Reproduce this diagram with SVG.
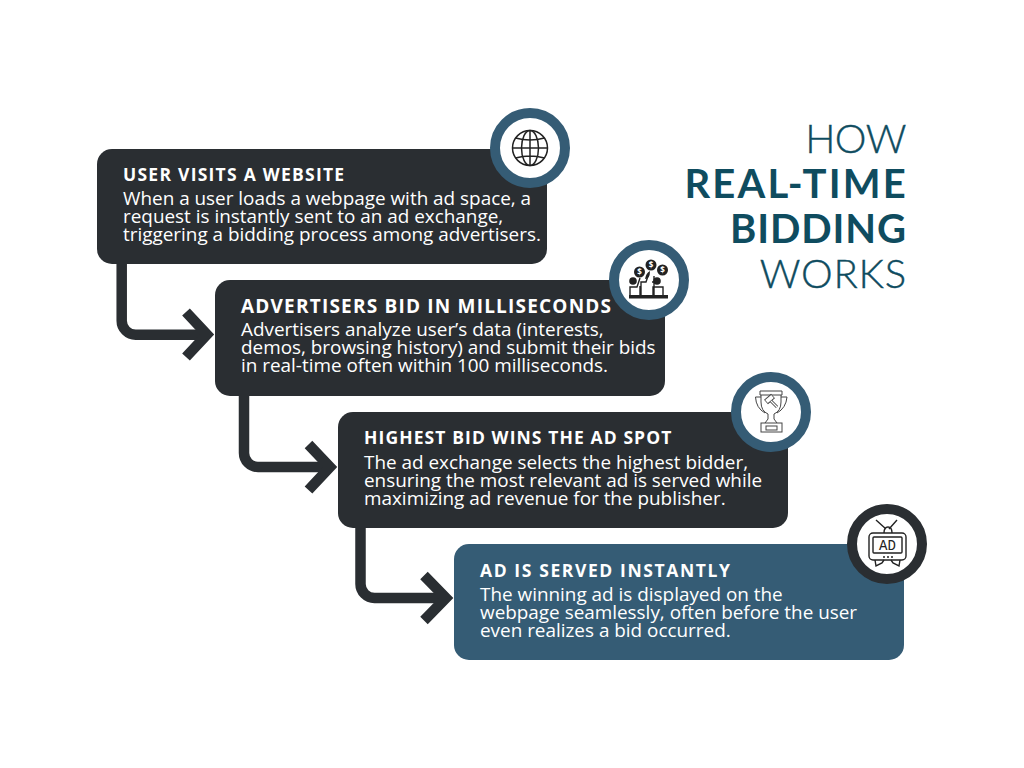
<svg xmlns="http://www.w3.org/2000/svg" width="1024" height="768" viewBox="0 0 1024 768">
<style>
.card{fill:#2a2e32}.blue{fill:#355c75}
.h{font:700 17.5px "Open Sans",sans-serif;fill:#fff;letter-spacing:1.1px}
.b{font:400 18.9px "Open Sans",sans-serif;fill:#fff}
.t{font-family:Lato,"Open Sans",sans-serif;font-size:40px;fill:#0f4c5f;text-anchor:end}
.tb{font-weight:700}.tl{font-weight:300;stroke:#0f4c5f;stroke-width:.4px}
.ring{fill:#fff;stroke:#355c75;stroke-width:10}
.conn{fill:none;stroke:#2a2e32;stroke-width:10.5}
.ic{fill:none;stroke:#222;stroke-width:1.4}
.gl{font:700 8px "Open Sans",sans-serif;fill:#fff;stroke:none;text-anchor:middle}
</style>
<rect width="1024" height="768" fill="#fff"/>
<g id="connectors" class="conn">
<path d="M121.700 262V320.700A14 14 0 0 0 135.700 334.700H206"/><path d="M186 312L207 334.500L186 357"/>
<path d="M244 394V453A14 14 0 0 0 258 467H329"/><path d="M308.500 444.500L330 467L308.500 490"/>
<path d="M360.500 526V584A14 14 0 0 0 374.500 598H445"/><path d="M424 575.500L446 598L424 620.500"/>
</g>
<g id="title">
<text class="t tl" x="906" y="153" style="letter-spacing:-.5px">HOW</text>
<text class="t tb" x="908" y="198" style="letter-spacing:2.200px">REAL-TIME</text>
<text class="t tb" x="907" y="243" style="letter-spacing:.9px">BIDDING</text>
<text class="t tl" x="907" y="288" style="letter-spacing:.8px">WORKS</text>
</g>
<g id="node1">
<rect class="card" x="97" y="149" width="450" height="115" rx="15"/>
<text class="h" x="123" y="181" style="letter-spacing:1.250px">USER VISITS A WEBSITE</text>
<text class="b" x="123" y="204.500">When a user loads a webpage with ad space, a</text>
<text class="b" x="123" y="222.500">request is instantly sent to an ad exchange,</text>
<text class="b" x="123" y="240.500">triggering a bidding process among advertisers.</text>
<circle class="ring" cx="530" cy="148" r="35"/>
<g class="ic" style="stroke-width:1.500px">
<circle cx="530" cy="148" r="17.500"/><ellipse cx="530" cy="148" rx="8.500" ry="17.500"/><path d="M530 130.500V165.500M512.500 148H547.500M515.500 138Q530 142 544.500 138M515.500 158Q530 154 544.500 158"/>
</g>
</g>
<g id="node2">
<rect class="card" x="215" y="280" width="450" height="116" rx="15"/>
<text class="h" x="241" y="313" style="font-size:19px;letter-spacing:1.200px">ADVERTISERS BID IN MILLISECONDS</text>
<text class="b" x="241" y="336">Advertisers analyze user’s data (interests,</text>
<text class="b" x="241" y="354">demos, browsing history) and submit their bids</text>
<text class="b" x="241" y="372">in real-time often within 100 milliseconds.</text>
<circle class="ring" cx="649" cy="280" r="35"/>
<g>
<rect x="629" y="295" width="39" height="3.500" fill="#222"/>
<g fill="#222"><circle cx="639.500" cy="272" r="5.500"/><circle cx="651" cy="265" r="5.500"/><circle cx="662.500" cy="270" r="5.500"/><circle cx="633" cy="281" r="3.800"/><circle cx="657" cy="281" r="3.800"/></g>
<text class="gl" x="639.500" y="275">$</text><text class="gl" x="651" y="268">$</text><text class="gl" x="662.500" y="273">$</text>
<path fill="#222" d="M645 279Q650 279 650 271Q646 273 645 279Z"/>
<path class="ic" d="M630 295V287H637L640 278M640 295V286M641 295V282H646L648 276M654 276V282H652M654 295V282M653 295V287H663V295"/>
</g>
</g>
<g id="node3">
<rect class="card" x="338" y="412" width="450" height="116" rx="15"/>
<text class="h" x="364" y="444">HIGHEST BID WINS THE AD SPOT</text>
<text class="b" x="364" y="468.500">The ad exchange selects the highest bidder,</text>
<text class="b" x="364" y="486.500">ensuring the most relevant ad is served while</text>
<text class="b" x="364" y="504.500">maximizing ad revenue for the publisher.</text>
<circle class="ring" cx="771" cy="412" r="35"/>
<g class="ic" style="stroke:#444;stroke-width:1">
<path d="M760 391H782V395H760ZM761 395V402Q761 411 768 414L768 419L765 423M781 395V402Q781 411 774 414L774 419L777 423M761 397H755.500Q756 408 765 413M781 397H787Q786 408 777 413"/>
<rect x="761" y="423" width="21" height="9"/><rect x="766" y="426" width="11" height="4"/>
<path style="stroke-width:6" d="M766 402L773 396"/><path style="stroke:#fff;stroke-width:4" d="M766.500 401.600L772.500 396.400"/>
<path style="stroke-width:3" d="M771 401L777 407"/><path style="stroke:#fff;stroke-width:1.200" d="M771 401L777 407"/>
</g>
</g>
<g id="node4">
<rect class="blue" x="454" y="544" width="450" height="116" rx="15"/>
<text class="h" x="480" y="577" style="letter-spacing:1.600px">AD IS SERVED INSTANTLY</text>
<text class="b" x="480" y="600.500">The winning ad is displayed on the</text>
<text class="b" x="480" y="618.500">webpage seamlessly, often before the user</text>
<text class="b" x="480" y="636.500">even realizes a bid occurred.</text>
<circle cx="887" cy="544" r="35" fill="#fff" stroke="#2a2e32" stroke-width="10"/>
<g class="ic">
<rect x="869" y="533" width="37" height="27" rx="4"/><rect x="873" y="537" width="29" height="16" rx="1"/>
<path d="M876 520L886 529M897 520L889 529M884 533Q884 527 888 527Q892 527 892 533M875 560L876 566L882 563L884 560M900 560L899 566L893 563L891 560"/>
<path stroke-dasharray="2 2" d="M883 557H893"/>
<text x="887.500" y="550" text-anchor="middle" style="font:400 14px 'Liberation Mono',monospace;fill:#222;stroke:none">AD</text>
</g>
</g>
</svg>
